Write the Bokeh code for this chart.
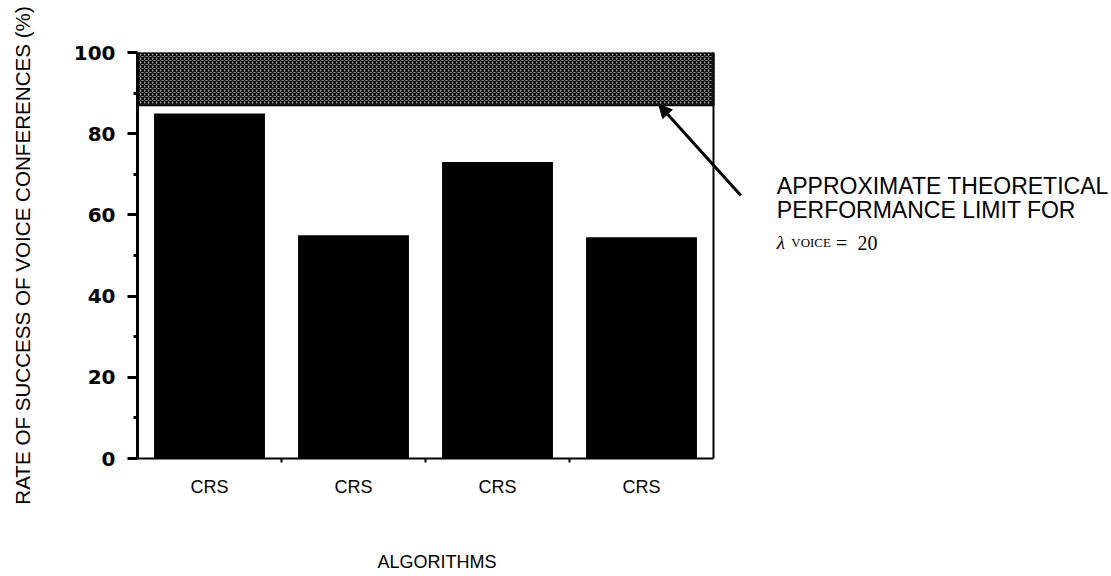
from bokeh.plotting import figure
from bokeh.layouts import column
from bokeh.models import Range1d, FixedTicker, Label, Arrow, NormalHead, ColumnDataSource
from bokeh.embed import file_html
from bokeh.resources import INLINE

# ---- data ----
algorithms = ["CRS", "CRS", "CRS", "CRS"]
success_rate = [85, 55, 73, 54.5]
limit_low = 87
limit_high = 100
y_ticks = [0, 20, 40, 60, 80, 100]
y_minor = [10, 30, 50, 70, 90]

n = len(algorithms)
xpos = [i + 0.5 for i in range(n)]
boundaries = list(range(1, n))

W = 1108
H_MAIN, H_FOOT = 546, 24
LEFT, TOP, BOTTOM = 137, 52, 88
UNIT = 144.0  # px per category
x_range = Range1d(0, (W - LEFT) / UNIT)

p_main = figure(width=W, height=H_MAIN, output_backend="svg", toolbar_location=None,
                x_range=x_range, y_range=Range1d(0, 100),
                min_border_left=LEFT, min_border_right=0, min_border_top=TOP, min_border_bottom=BOTTOM)
p_main.background_fill_color = "white"
p_main.border_fill_color = "white"
p_main.outline_line_color = None
p_main.xgrid.visible = False
p_main.ygrid.visible = False

# theoretical limit band
p_main.quad(left=[0], right=[n], bottom=[limit_low], top=[limit_high],
            fill_color="#a0a0a0", line_color="black", line_width=2,
            hatch_pattern="diagonal_cross", hatch_color="black", hatch_scale=4, hatch_weight=1.3)

# bars
src = ColumnDataSource(dict(x=xpos, top=success_rate))
p_main.vbar(x="x", top="top", bottom=0, width=0.77, source=src, fill_color="black", line_color=None)

# right edge of plot box
p_main.segment(x0=[n], y0=[0], x1=[n], y1=[limit_high], line_color="black", line_width=2)

# y axis
yax = p_main.yaxis[0]
yax.ticker = FixedTicker(ticks=y_ticks, minor_ticks=y_minor)
yax.axis_line_width = 3
yax.major_tick_line_width = 3
yax.major_tick_out = 10
yax.major_tick_in = 0
yax.minor_tick_line_width = 3
yax.minor_tick_out = 4
yax.minor_tick_in = 0
yax.major_label_text_font = "DejaVu Sans"
yax.major_label_text_font_style = "bold"
yax.major_label_text_font_size = "20px"
yax.major_label_text_color = "black"
yax.major_label_standoff = 12
yax.axis_label = "RATE OF SUCCESS OF VOICE CONFERENCES (%)"
yax.axis_label_text_font = "Liberation Sans"
yax.axis_label_text_font_style = "normal"
yax.axis_label_text_font_size = "20.6px"
yax.axis_label_text_color = "black"
yax.axis_label_standoff = 37

# x axis
xax = p_main.xaxis[0]
xax.bounds = (0, n)
xax.ticker = FixedTicker(ticks=xpos, minor_ticks=boundaries)
xax.major_label_overrides = {x: lab for x, lab in zip(xpos, algorithms)}
xax.axis_line_width = 2
xax.major_tick_out = 0
xax.major_tick_in = 0
xax.minor_tick_out = 4
xax.minor_tick_in = 0
xax.minor_tick_line_width = 2
xax.major_label_text_font = "Liberation Sans"
xax.major_label_text_font_size = "18px"
xax.major_label_text_color = "black"
xax.major_label_standoff = 14

# annotation arrow
p_main.add_layout(Arrow(x_start=4.19, y_start=64.8, x_end=3.62, y_end=87.2,
                        line_width=3, line_color="black",
                        end=NormalHead(size=13, fill_color="black", line_color="black")))

# annotation text
ann_font = "Liberation Sans"
p_main.add_layout(Label(x=4.44, y=67.0, text="APPROXIMATE THEORETICAL", text_font=ann_font,
                        text_font_size="23px", text_color="black", text_baseline="alphabetic"))
p_main.add_layout(Label(x=4.44, y=61.3, text="PERFORMANCE LIMIT FOR", text_font=ann_font,
                        text_font_size="23px", text_color="black", text_baseline="alphabetic"))
p_main.add_layout(Label(x=4.44, y=53.2, text="λ", text_font="Liberation Serif", text_font_style="italic",
                        text_font_size="19px", text_color="black", text_baseline="alphabetic"))
p_main.add_layout(Label(x=4.54, y=53.2, text="VOICE", text_font="Liberation Serif",
                        text_font_size="13px", text_color="black", text_baseline="alphabetic"))
p_main.add_layout(Label(x=4.85, y=53.2, text="=", text_font="Liberation Serif",
                        text_font_size="20px", text_color="black", text_baseline="alphabetic"))
p_main.add_layout(Label(x=5.0, y=53.2, text="20", text_font="Liberation Serif",
                        text_font_size="20px", text_color="black", text_baseline="alphabetic"))

# footer strip holding the x-axis title, sharing the x scale
p_foot = figure(width=W, height=H_FOOT, output_backend="svg", toolbar_location=None,
                x_range=x_range, y_range=Range1d(0, H_FOOT),
                x_axis_location=None, y_axis_location=None,
                min_border_left=LEFT, min_border_right=0, min_border_top=0, min_border_bottom=0)
p_foot.background_fill_color = "white"
p_foot.border_fill_color = "white"
p_foot.outline_line_color = None
p_foot.xgrid.visible = False
p_foot.ygrid.visible = False
p_foot.add_layout(Label(x=2.08, y=9, text="ALGORITHMS", text_align="center",
                        text_baseline="alphabetic", text_font="Liberation Sans",
                        text_font_size="18px", text_color="black"))

p = column(p_main, p_foot, spacing=0)

open("out.html", "w").write(file_html(p, INLINE))
